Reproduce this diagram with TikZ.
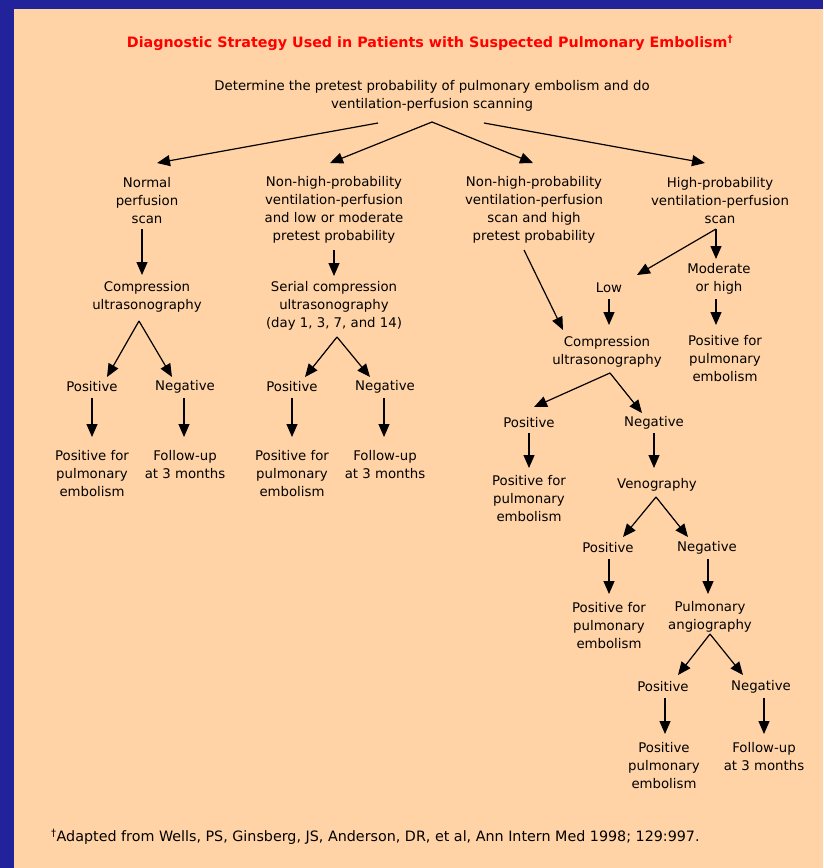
\documentclass[tikz,border=0pt]{standalone}
\usepackage{fontspec}
\setmainfont{DejaVu Sans}
\usetikzlibrary{arrows.meta}
\definecolor{bgblue}{HTML}{22229A}
\definecolor{peach}{HTML}{FFD3A5}
\definecolor{titlered}{HTML}{FF0000}
\newcommand\arw[4]{\draw[arr] ([shift={#2}]#1.center) -- ([shift={#4}]#3.center);}
\begin{document}
\begin{tikzpicture}[x=1pt,y=-1pt,
  lbl/.style={align=center,inner sep=0pt,font=\fontsize{13.3}{18}\selectfont},
  arr/.style={line width=1.2pt,-{Triangle[length=13pt,width=11pt]}}]
\useasboundingbox (0,0) rectangle (823,868);
\fill[bgblue] (0,0) rectangle (823,868);
\fill[peach] (14,9) rectangle (823,868);
\node[lbl,font=\bfseries\fontsize{14.3}{18}\selectfont,text=titlered] (title) at (430,43) {Diagnostic Strategy Used in Patients with Suspected Pulmonary Embolism\textsuperscript{†}};
\node[lbl] (top) at (432,96) {Determine the pretest probability of pulmonary embolism and do\\ventilation-perfusion scanning};
% first level
\node[lbl] (n1) at (147,201) {Normal\\perfusion\\scan};
\node[lbl] (n2) at (334,210) {Non-high-probability\\ventilation-perfusion\\and low or moderate\\pretest probability};
\node[lbl] (n3) at (534,210) {Non-high-probability\\ventilation-perfusion\\scan and high\\pretest probability};
\node[lbl] (n4) at (720,201) {High-probability\\ventilation-perfusion\\scan};
% column 1
\node[lbl] (c1) at (147,297) {Compression\\ultrasonography};
\node[lbl] (p1) at (92,387) {Positive};
\node[lbl] (g1) at (185,387) {Negative};
\node[lbl] (r1) at (92,474) {Positive for\\pulmonary\\embolism};
\node[lbl] (f1) at (185,465) {Follow-up\\at 3 months};
% column 2
\node[lbl] (s2) at (334,306) {Serial compression\\ultrasonography\\(day 1, 3, 7, and 14)};
\node[lbl] (p2) at (292,387) {Positive};
\node[lbl] (g2) at (385,387) {Negative};
\node[lbl] (r2) at (292,474) {Positive for\\pulmonary\\embolism};
\node[lbl] (f2) at (385,465) {Follow-up\\at 3 months};
% columns 3/4
\node[lbl] (low) at (609,288) {Low};
\node[lbl] (mod) at (719,279) {Moderate\\or high};
\node[lbl] (r4) at (725,359) {Positive for\\pulmonary\\embolism};
\node[lbl] (c3) at (607,352) {Compression\\ultrasonography};
\node[lbl] (p3) at (529,423) {Positive};
\node[lbl] (g3) at (654,423) {Negative};
\node[lbl] (r3) at (529,499) {Positive for\\pulmonary\\embolism};
\node[lbl] (ven) at (657,485) {Venography};
\node[lbl] (p5) at (608,548) {Positive};
\node[lbl] (g5) at (707,548) {Negative};
\node[lbl] (r5) at (609,626) {Positive for\\pulmonary\\embolism};
\node[lbl] (ang) at (710,617) {Pulmonary\\angiography};
\node[lbl] (p6) at (663,687) {Positive};
\node[lbl] (g6) at (761,687) {Negative};
\node[lbl] (r6) at (664,766) {Positive\\pulmonary\\embolism};
\node[lbl] (f6) at (764,757) {Follow-up\\at 3 months};
% footnote
\node[lbl,anchor=west,font=\fontsize{14.3}{18}\selectfont] (foot) at (51,837) {\textsuperscript{†}Adapted from Wells, PS, Ginsberg, JS, Anderson, DR, et al, Ann Intern Med 1998; 129:997.};
% arrows
\arw{top}{(-54,27)}{n1}{(10,-38)}
\arw{top}{(0,26)}{n2}{(-4,-47)}
\arw{top}{(0,26)}{n3}{(-1,-47)}
\arw{top}{(52,27)}{n4}{(-15,-38)}
\arw{n1}{(-5,28)}{c1}{(-5,-22)}
\arw{c1}{(-8,24)}{p1}{(15,-10)}
\arw{c1}{(-8,24)}{g1}{(-13,-10)}
\arw{p1}{(0,11)}{r1}{(0,-37)}
\arw{g1}{(-1,11)}{f1}{(-1,-28)}
\arw{n2}{(0,40)}{s2}{(0,-30)}
\arw{s2}{(3,31)}{p2}{(13,-10)}
\arw{s2}{(3,31)}{g2}{(-15,-10)}
\arw{p2}{(0,11)}{r2}{(0,-37)}
\arw{g2}{(-1,11)}{f2}{(-1,-28)}
\arw{n3}{(-10,40)}{c3}{(-44,-22)}
\arw{n4}{(-4,28)}{low}{(28,-13)}
\arw{n4}{(-4,28)}{mod}{(-3,-20)}
\arw{low}{(0,11)}{c3}{(2,-27)}
\arw{mod}{(-3,20)}{r4}{(-9,-34)}
\arw{c3}{(3,21)}{p3}{(5,-16)}
\arw{c3}{(3,21)}{g3}{(-12,-10)}
\arw{p3}{(0,10)}{r3}{(0,-31)}
\arw{g3}{(0,10)}{ven}{(-3,-17)}
\arw{ven}{(-1,12)}{p5}{(15,-11)}
\arw{ven}{(-1,12)}{g5}{(-19,-11)}
\arw{p5}{(1,11)}{r5}{(0,-32)}
\arw{g5}{(1,11)}{ang}{(-2,-23)}
\arw{ang}{(0,17)}{p6}{(15,-12)}
\arw{ang}{(0,17)}{g6}{(-18,-12)}
\arw{p6}{(2,11)}{r6}{(1,-32)}
\arw{g6}{(3,11)}{f6}{(0,-23)}
\end{tikzpicture}
\end{document}
